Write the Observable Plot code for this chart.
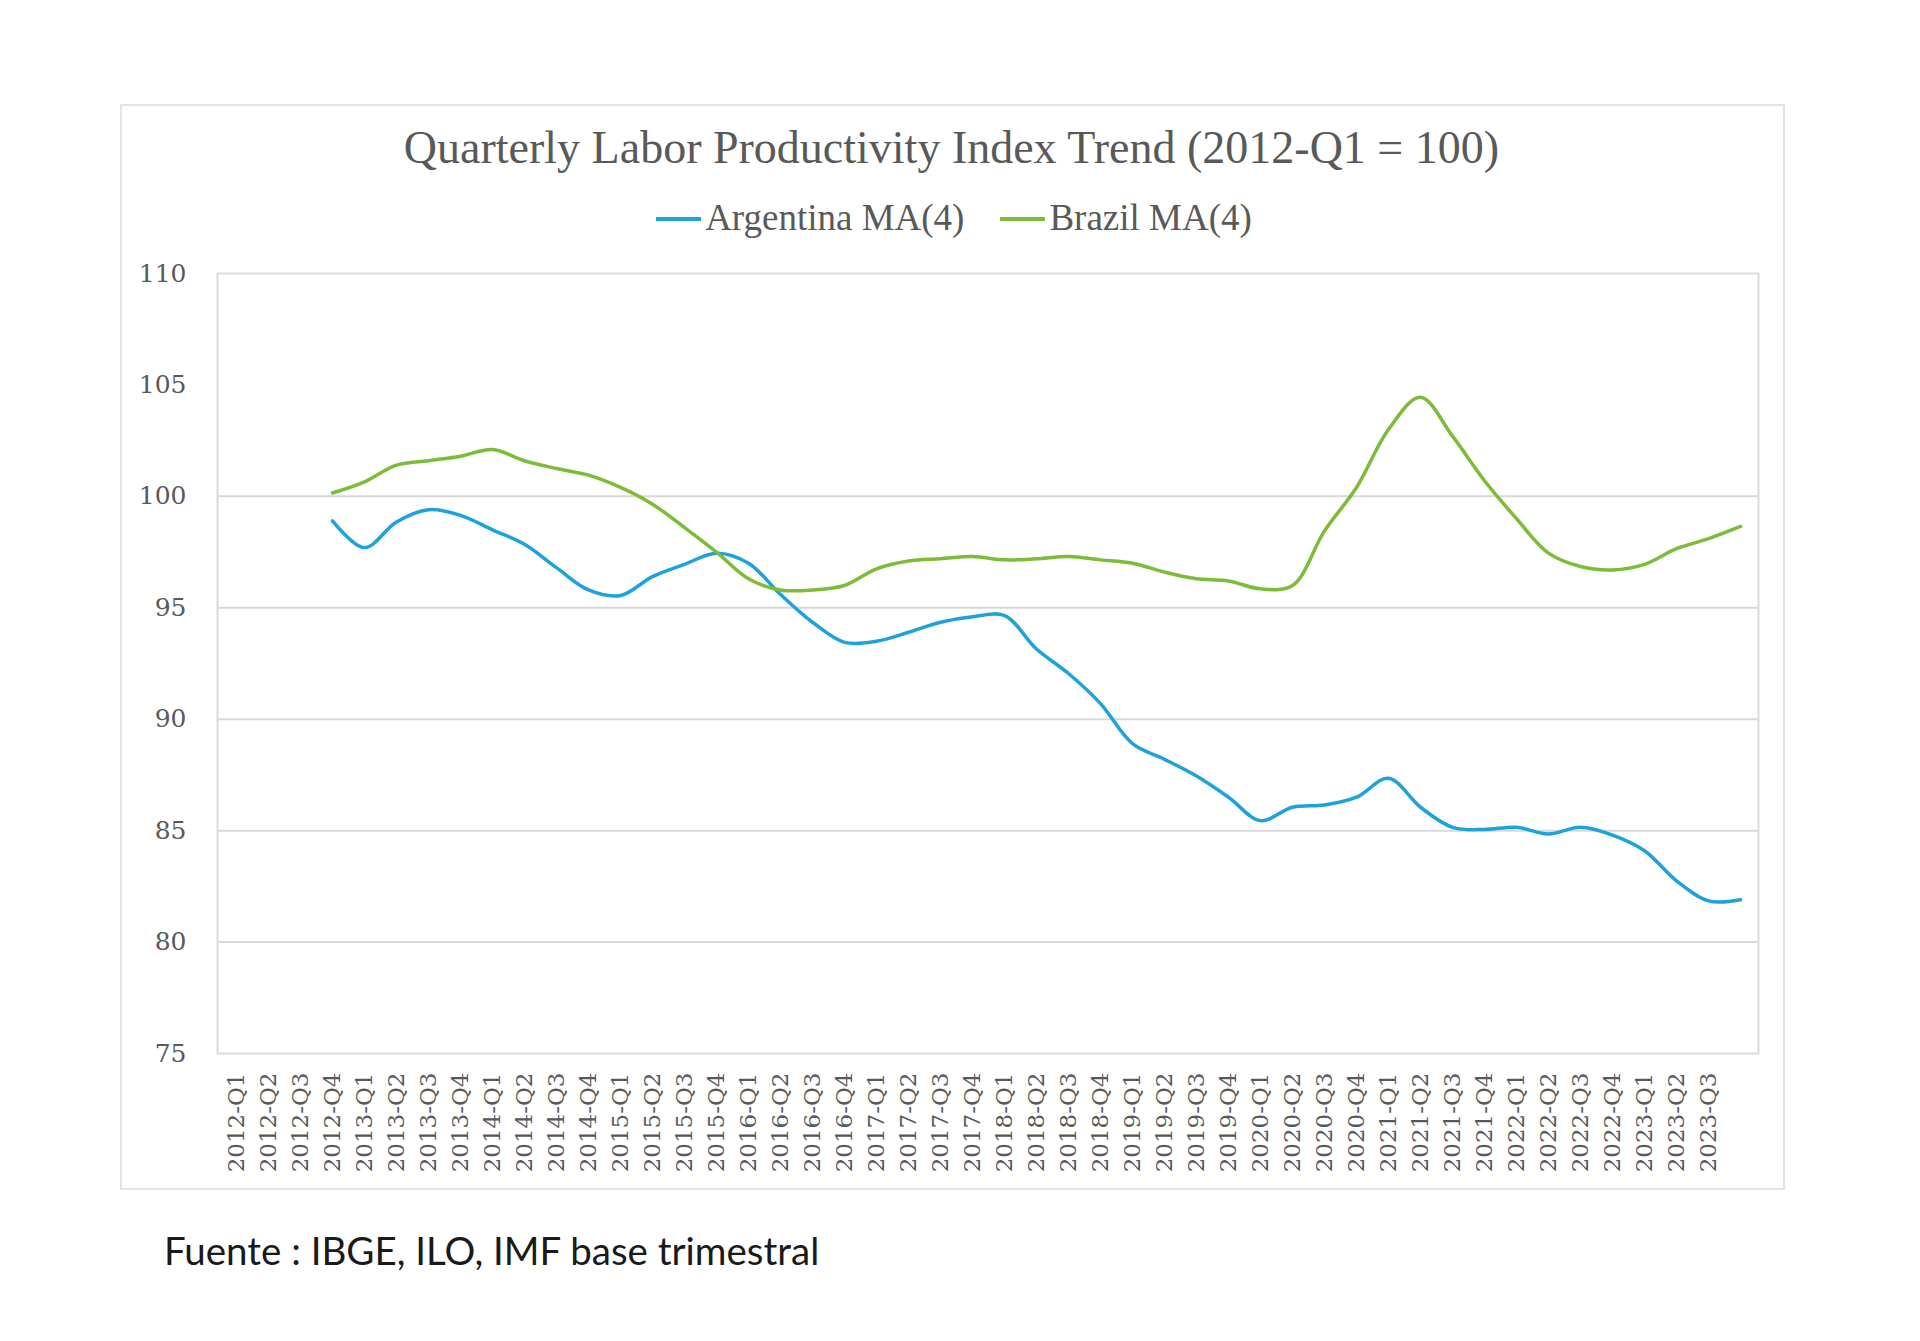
<!DOCTYPE html>
<html>
<head>
<meta charset="utf-8">
<script src="https://cdn.jsdelivr.net/npm/d3@7"></script>
<script src="https://cdn.jsdelivr.net/npm/@observablehq/plot@0.6"></script>
<style>
  html, body { margin: 0; padding: 0; background: #ffffff; }
  body { width: 1920px; height: 1341px; position: relative; overflow: hidden; }
  #box { position: absolute; left: 120px; top: 104px; width: 1661px; height: 1082px; border: 2px solid #e3e3e3; box-sizing: content-box; }
  #title { position: absolute; left: 0; width: 1903px; top: 125px; text-align: center; font-family: "Liberation Serif", serif; font-size: 46px; line-height: 1; color: #595959; white-space: nowrap; }
  #legend { position: absolute; left: 0; width: 1908px; top: 199px; text-align: center; font-family: "Liberation Serif", serif; font-size: 37px; line-height: 1; color: #595959; white-space: nowrap; }
  .item { display: inline-block; margin: 0 18px; }
  .sw { display: inline-block; width: 45px; height: 4px; vertical-align: middle; margin-right: 4px; position: relative; top: -3px; }
  #chart { position: absolute; left: 120px; top: 250px; }
  #caption { position: absolute; left: 164px; top: 1227px; font-family: Lato, "Open Sans", sans-serif; font-size: 38.5px; line-height: 1.2; color: #1a1a1a; white-space: nowrap; }
</style>
</head>
<body>
<div id="box"></div>
<div id="title"></div>
<div id="legend"></div>
<div id="chart"></div>
<div id="caption"></div>
<script>
// ---- data ----
const titleText = "Quarterly Labor Productivity Index Trend (2012-Q1 = 100)";
const captionText = "Fuente : IBGE, ILO, IMF base trimestral";
const seriesNames = ["Argentina MA(4)", "Brazil MA(4)"];
const seriesColors = ["#1ea2dc", "#7cbc38"];

const quarters = [
  "2012-Q1","2012-Q2","2012-Q3","2012-Q4",
  "2013-Q1","2013-Q2","2013-Q3","2013-Q4",
  "2014-Q1","2014-Q2","2014-Q3","2014-Q4",
  "2015-Q1","2015-Q2","2015-Q3","2015-Q4",
  "2016-Q1","2016-Q2","2016-Q3","2016-Q4",
  "2017-Q1","2017-Q2","2017-Q3","2017-Q4",
  "2018-Q1","2018-Q2","2018-Q3","2018-Q4",
  "2019-Q1","2019-Q2","2019-Q3","2019-Q4",
  "2020-Q1","2020-Q2","2020-Q3","2020-Q4",
  "2021-Q1","2021-Q2","2021-Q3","2021-Q4",
  "2022-Q1","2022-Q2","2022-Q3","2022-Q4",
  "2023-Q1","2023-Q2","2023-Q3","2023-Q4"
];
// tick labels shown on the axis (the last quarter has no label in the source)
const xTickLabels = quarters.slice(0, 47);
const yTicks = [75, 80, 85, 90, 95, 100, 105, 110];
const gridValues = [80, 85, 90, 95, 100];

const argentina = [
  null, null, null, 98.9,
  97.7, 98.85, 99.4, 99.15,
  98.5, 97.85, 96.8, 95.8,
  95.55, 96.4, 96.95, 97.45,
  97.0, 95.6, 94.35, 93.45,
  93.5, 93.9, 94.35, 94.6,
  94.65, 93.15, 92.05, 90.7,
  88.9, 88.2, 87.45, 86.5,
  85.45, 86.05, 86.15, 86.5,
  87.35, 86.05, 85.15, 85.05,
  85.15, 84.85, 85.15, 84.8,
  84.1, 82.75, 81.85, 81.9
];
const brazil = [
  null, null, null, 100.15,
  100.65, 101.4, 101.6, 101.8,
  102.1, 101.6, 101.25, 100.95,
  100.4, 99.65, 98.6, 97.5,
  96.3, 95.8, 95.8, 96.0,
  96.75, 97.1, 97.2, 97.3,
  97.15, 97.2, 97.3, 97.15,
  97.0, 96.6, 96.3, 96.2,
  95.85, 96.0, 98.45, 100.4,
  103.0, 104.45, 102.7, 100.7,
  99.0, 97.45, 96.85, 96.7,
  96.95, 97.65, 98.1, 98.65
];

// ---- text ----
document.getElementById("title").textContent = titleText;
document.getElementById("caption").textContent = captionText;
const legend = document.getElementById("legend");
seriesNames.forEach((name, k) => {
  const item = document.createElement("span");
  item.className = "item";
  const sw = document.createElement("span");
  sw.className = "sw";
  sw.style.background = seriesColors[k];
  item.appendChild(sw);
  item.appendChild(document.createTextNode(name));
  legend.appendChild(item);
});

// ---- table ----
const rows = [];
[argentina, brazil].forEach((vals, k) => {
  vals.forEach((v, i) => {
    if (v != null) rows.push({quarter: quarters[i], value: v, series: seriesNames[k]});
  });
});

const chart = Plot.plot({
  width: 1663,
  height: 938,
  marginLeft: 97,
  marginRight: 25,
  marginTop: 23,
  marginBottom: 135,
  style: {fontFamily: "DejaVu Serif", fontSize: "25px", color: "#595959", background: "transparent"},
  x: {type: "point", domain: quarters, padding: 0.5},
  y: {domain: [75, 110]},
  marks: [
    Plot.ruleY(gridValues, {stroke: "#d9d9d9", strokeWidth: 2}),
    Plot.frame({stroke: "#dcdcdc", strokeWidth: 2}),
    Plot.axisY({ticks: yTicks, tickSize: 0, tickPadding: 31, label: null, fontSize: 25}),
    Plot.axisX({ticks: xTickLabels, tickRotate: -90, tickSize: 0, tickPadding: 19, label: null, fontSize: 23}),
    Plot.line(rows, {
      x: "quarter", y: "value", z: "series",
      stroke: d => seriesColors[seriesNames.indexOf(d.series)],
      strokeWidth: 3.5, curve: "catmull-rom"
    })
  ]
});
document.getElementById("chart").appendChild(chart);
</script>
</body>
</html>
